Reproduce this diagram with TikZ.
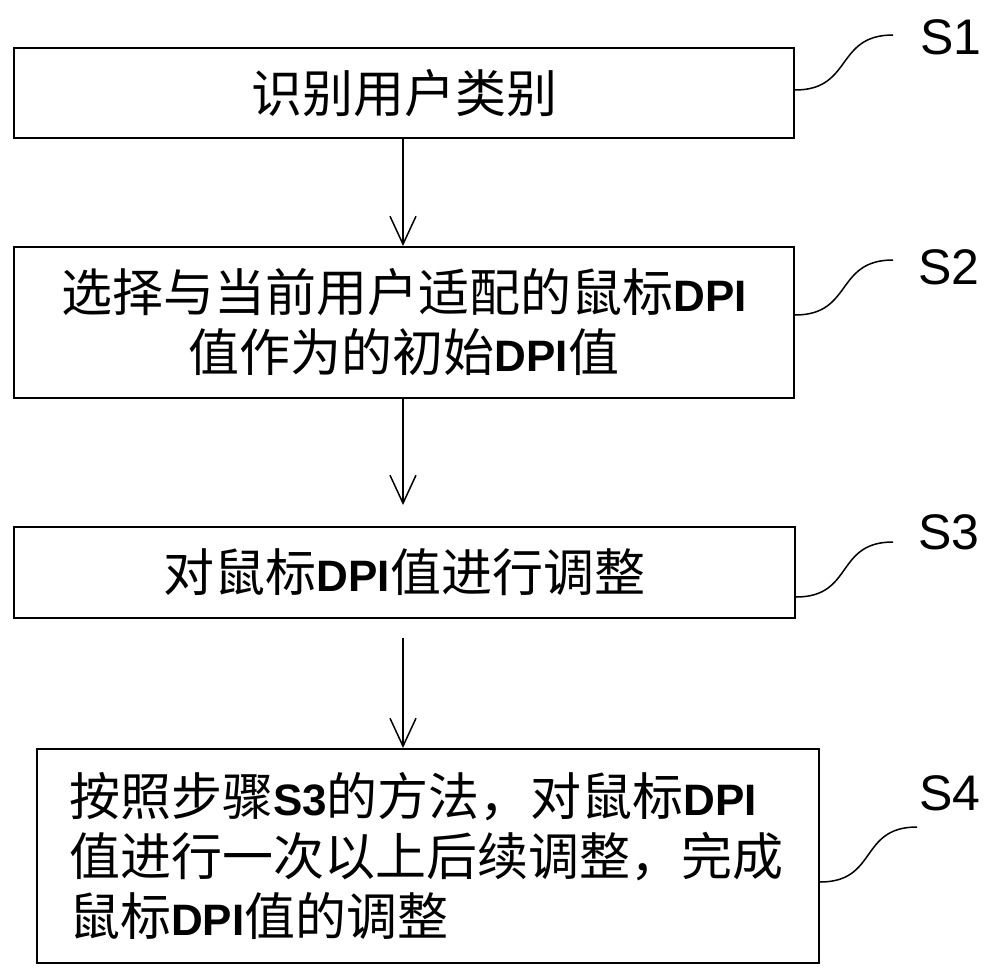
\documentclass[tikz,border=0pt]{standalone}
\usepackage{fontspec}
\setmainfont{Noto Sans CJK SC}
\newfontfamily\lat{Liberation Sans}
\newfontfamily\dpifont{Liberation Sans Bold}
\usetikzlibrary{arrows.meta,calc}
\newcommand\Lt[1]{{\dpifont\fontsize{44}{60}\selectfont #1}}
\begin{document}
\begin{tikzpicture}[x=1pt,y=-1pt,
  box/.style={draw, line width=2pt, inner sep=0pt, font=\fontsize{51}{60}\selectfont},
  conn/.style={line width=1.5pt, -{Straight Barb[length=28pt,width=26pt]}},
  lead/.style={line width=1.5pt},
  lab/.style={font=\lat\fontsize{50}{60}\selectfont, inner sep=0pt}]
\useasboundingbox (0,0) rectangle (1000,979);
\node[box, minimum width=780pt, minimum height=90pt] (b1) at (404,93) {识别用户类别};
\node[box, minimum width=780pt, minimum height=151pt, align=center] (b2) at (404,322.5)
  {选择与当前用户适配的鼠标\Lt{DPI}\\值作为的初始\Lt{DPI}值};
\node[box, minimum width=781pt, minimum height=91pt] (b3) at (404.5,572.5)
  {对鼠标\Lt{DPI}值进行调整};
\node[box, minimum height=214pt, text width=718pt, inner xsep=32pt, align=left] (b4) at (428,856)
  {按照步骤\Lt{S3}的方法，对鼠标\Lt{DPI}\\值进行一次以上后续调整，完成\\鼠标\Lt{DPI}值的调整};
\coordinate (a2) at (403,505);
\coordinate (a3) at (403,638);
\draw[conn] (b1.south -| 403,0) -- (b2.north -| 403,0);
\draw[conn] (b2.south -| 403,0) -- (a2);
\draw[conn] (a3) -- (b4.north -| 403,0);
\coordinate (e1) at (893,35);
\coordinate (e2) at (893,260);
\coordinate (e3) at (893,542);
\coordinate (e4) at (917,827);
\draw[lead] ($(b1.east)+(0,-3)$) .. controls +(58,0) and +(-58,0) .. (e1);
\draw[lead] ($(b2.east)+(0,-7.5)$) .. controls +(58,0) and +(-58,0) .. (e2);
\draw[lead] ($(b3.east)+(0,24.5)$) .. controls +(58,0) and +(-58,0) .. (e3);
\draw[lead] ($(b4.east)+(0,26)$) .. controls +(58,0) and +(-58,0) .. (e4);
\node[lab] (l1) at (951,37) {S1};
\node[lab] (l2) at (949,267) {S2};
\node[lab] (l3) at (949,532) {S3};
\node[lab] (l4) at (950,793) {S4};
\end{tikzpicture}
\end{document}
